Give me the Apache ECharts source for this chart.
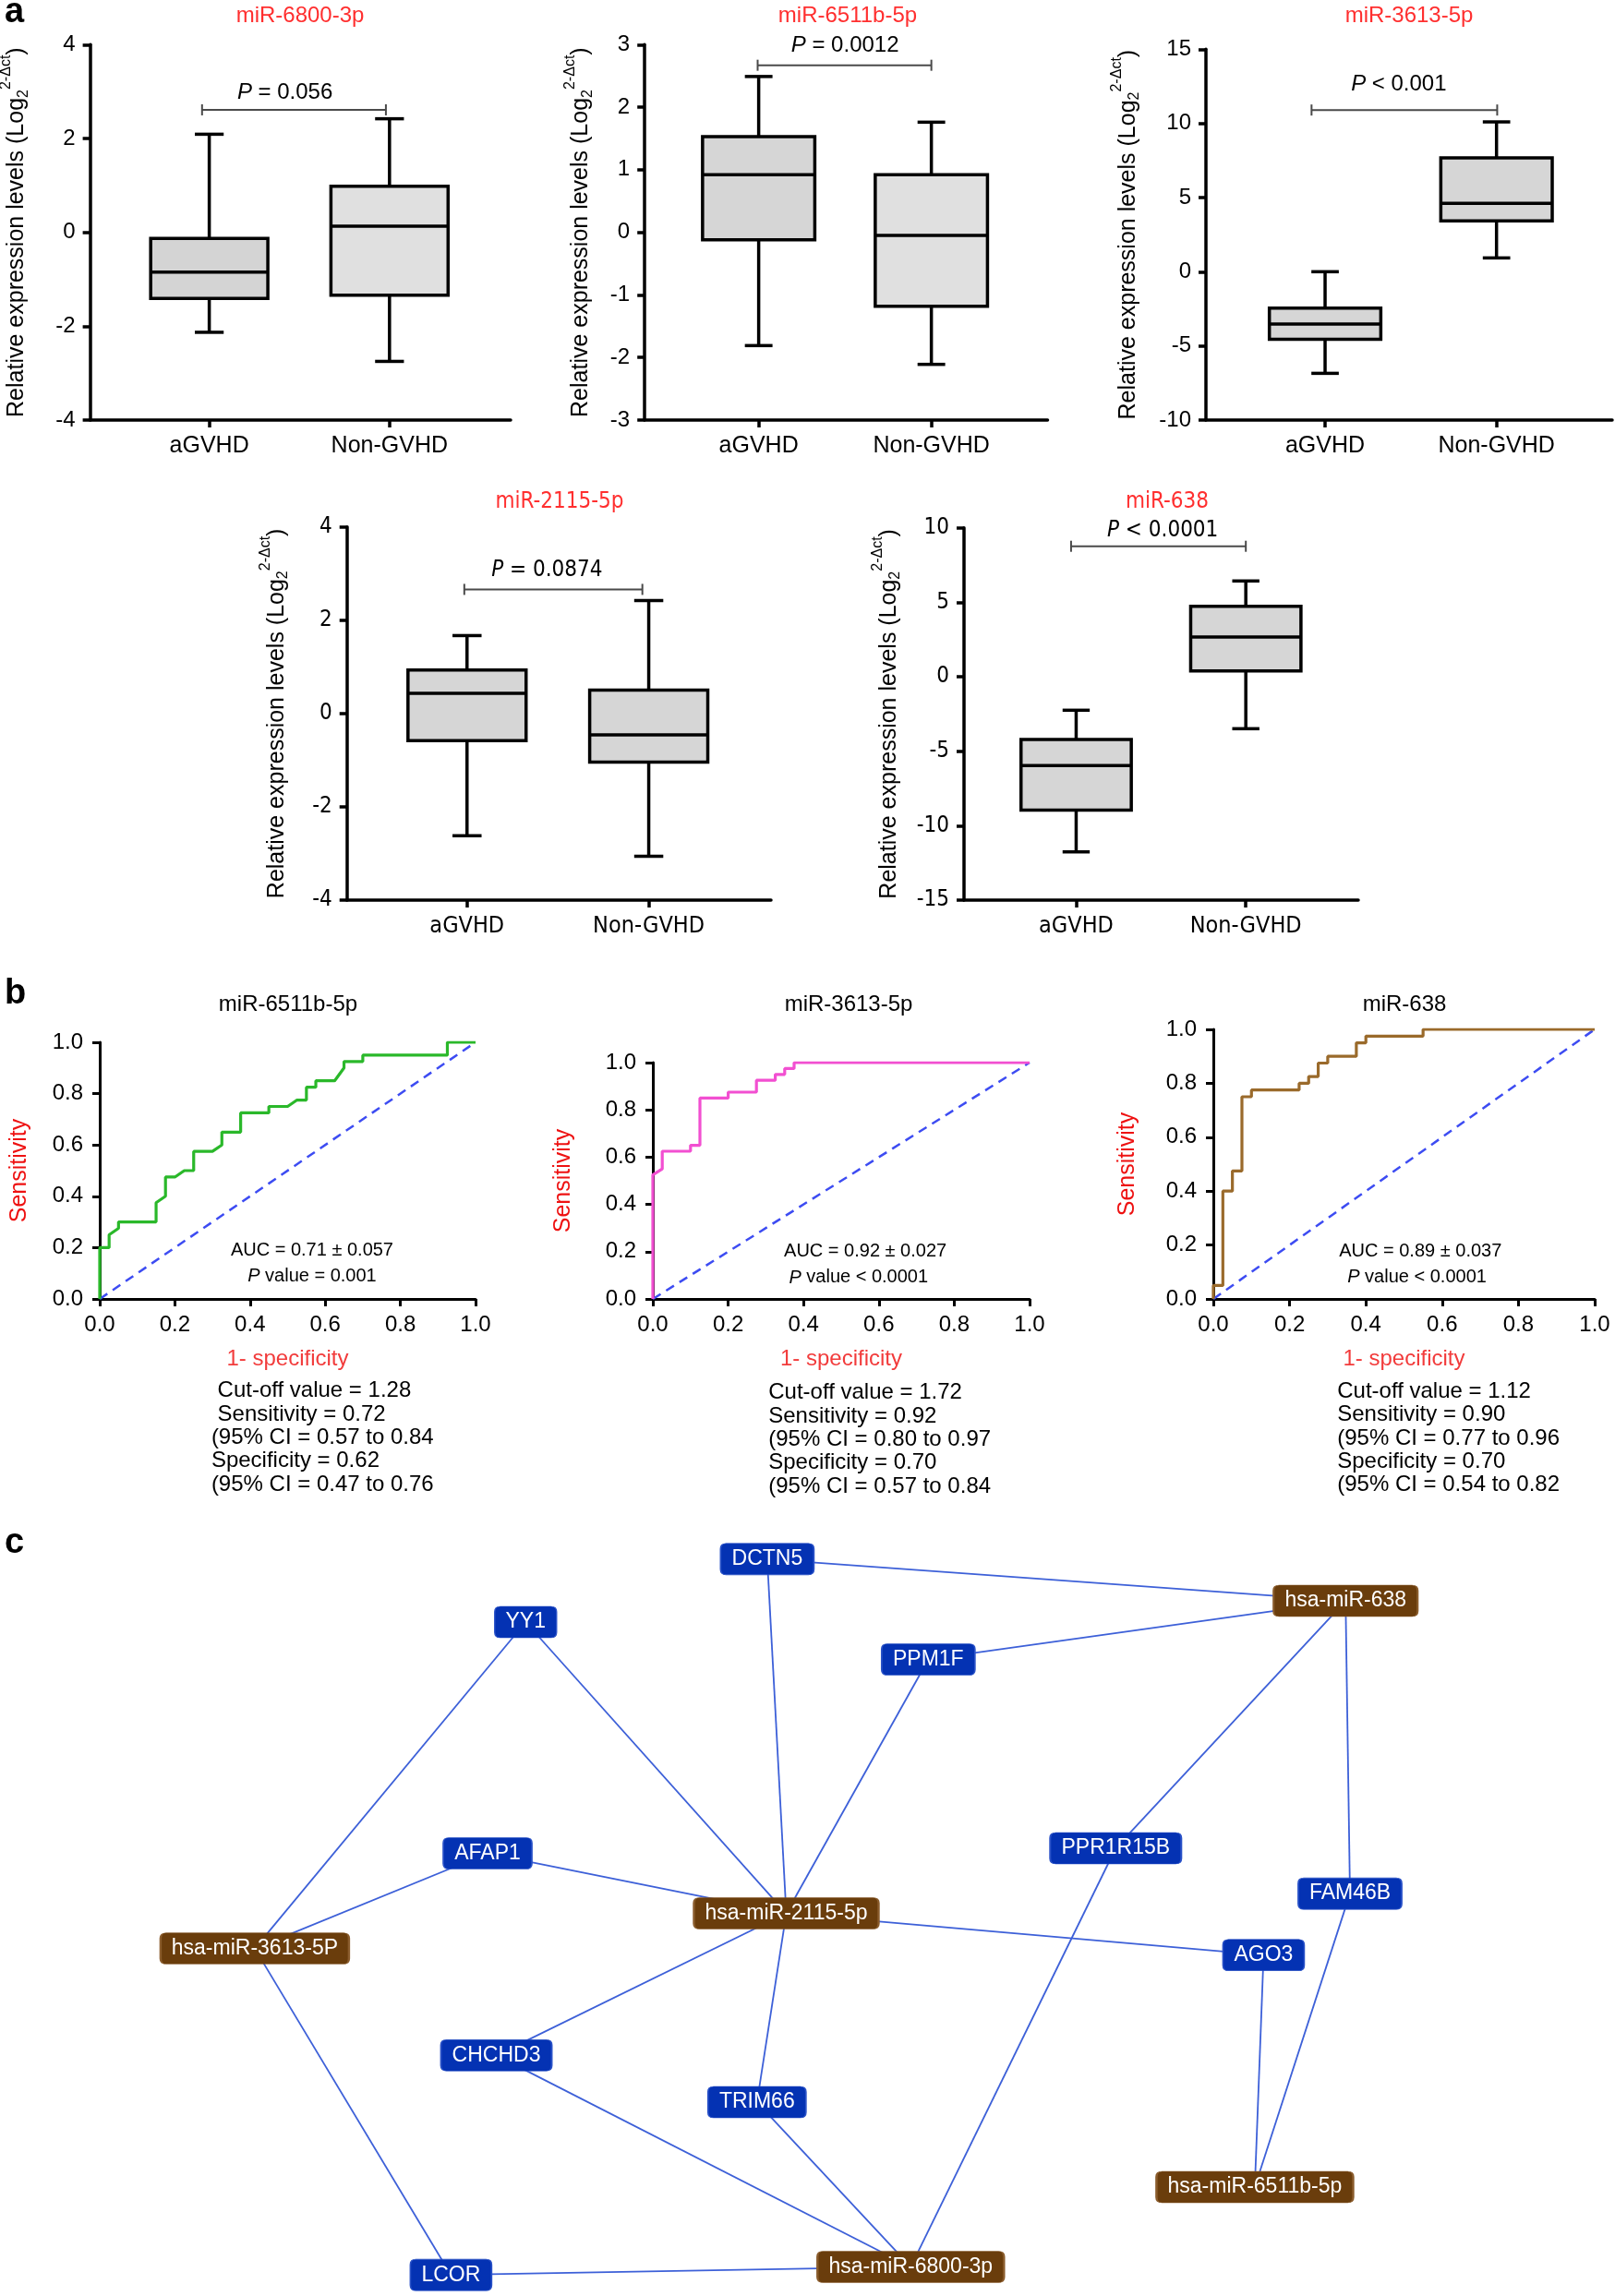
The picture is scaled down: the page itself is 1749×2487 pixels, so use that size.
<!DOCTYPE html>
<html><head><meta charset="utf-8">
<script src="https://cdn.jsdelivr.net/npm/echarts@6/dist/echarts.min.js"></script>
<style>html,body{margin:0;padding:0;background:#fff}#c{width:1749px;height:2487px}</style>
</head><body><div id="c"></div><script>
const FONT = '"Liberation Sans", Arial, Helvetica, sans-serif';
const NARROW = '"Liberation Sans Narrow", "Arial Narrow", "DejaVu Sans Condensed", "Liberation Sans", sans-serif';

// ---------------- Panel a : box plots ----------------
const groups = ['aGVHD', 'Non-GVHD'];
const boxTitles = ['miR-6800-3p', 'miR-6511b-5p', 'miR-3613-5p', 'miR-2115-5p', 'miR-638'];
// each box: [min, Q1, median, Q3, max]
const box6800 = [[-2.13, -1.41, -0.85, -0.13, 2.09], [-2.75, -1.34, 0.13, 0.98, 2.42]];
const box6511 = [[-1.81, -0.12, 0.92, 1.53, 2.49], [-2.11, -1.18, -0.05, 0.92, 1.76]];
const box3613 = [[-6.85, -4.56, -3.53, -2.45, 0.0], [0.93, 3.42, 4.61, 7.68, 10.1]];
const box2115 = [[-2.62, -0.58, 0.43, 0.93, 1.67], [-3.06, -1.04, -0.46, 0.50, 2.42]];
const box638 = [[-11.76, -8.95, -5.97, -4.21, -2.25], [-3.49, 0.39, 2.67, 4.73, 6.43]];
const boxSets = [box6800, box6511, box3613, box2115, box638];
const yMinA = [-4, -3, -10, -4, -15];
const yMaxA = [4, 3, 15, 4, 10];
const yStepA = [2, 1, 5, 2, 5];
const pOps = ['=', '=', '<', '=', '<'];
const pVals = ['0.056', '0.0012', '0.001', '0.0874', '0.0001'];
const bracketLevel = [2.61, 2.67, 10.9, 2.66, 8.76];

// ---------------- Panel b : ROC curves ----------------
const rocTitles = ['miR-6511b-5p', 'miR-3613-5p', 'miR-638'];
const roc6511 = [[0,0],[0,0.2],[0.025,0.2],[0.025,0.25],[0.05,0.275],[0.05,0.3],[0.15,0.3],[0.15,0.375],[0.175,0.4],[0.175,0.475],[0.2,0.475],[0.225,0.5],[0.25,0.5],[0.25,0.575],[0.3,0.575],[0.325,0.6],[0.325,0.65],[0.375,0.65],[0.375,0.725],[0.45,0.725],[0.45,0.75],[0.5,0.75],[0.525,0.775],[0.55,0.775],[0.55,0.825],[0.575,0.825],[0.575,0.85],[0.625,0.85],[0.65,0.9],[0.65,0.925],[0.7,0.925],[0.7,0.95],[0.925,0.95],[0.925,1],[1,1]];
const roc3613 = [[0,0],[0,0.525],[0.025,0.55],[0.025,0.625],[0.1,0.625],[0.1,0.65],[0.125,0.65],[0.125,0.85],[0.2,0.85],[0.2,0.875],[0.275,0.875],[0.275,0.925],[0.325,0.925],[0.325,0.95],[0.35,0.95],[0.35,0.975],[0.375,0.975],[0.375,1],[1,1]];
const roc638 = [[0,0],[0,0.05],[0.025,0.05],[0.025,0.4],[0.05,0.4],[0.05,0.475],[0.075,0.475],[0.075,0.75],[0.1,0.75],[0.1,0.775],[0.225,0.775],[0.225,0.8],[0.25,0.8],[0.25,0.825],[0.275,0.825],[0.275,0.875],[0.3,0.875],[0.3,0.9],[0.375,0.9],[0.375,0.95],[0.4,0.95],[0.4,0.975],[0.55,0.975],[0.55,1],[1,1]];
const rocSets = [roc6511, roc3613, roc638];
const chanceLine = [[0, 0], [1, 1]];
const rocAUC = ['0.71 ± 0.057', '0.92 ± 0.027', '0.89 ± 0.037'];
const rocP = ['= 0.001', '< 0.0001', '< 0.0001'];
const rocStats = [
  [' Cut-off value = 1.28', ' Sensitivity = 0.72', '(95% CI = 0.57 to 0.84', 'Specificity = 0.62', '(95% CI = 0.47 to 0.76'],
  ['Cut-off value = 1.72', 'Sensitivity = 0.92', '(95% CI = 0.80 to 0.97', 'Specificity = 0.70', '(95% CI = 0.57 to 0.84'],
  ['Cut-off value = 1.12', 'Sensitivity = 0.90', '(95% CI = 0.77 to 0.96', 'Specificity = 0.70', '(95% CI = 0.54 to 0.82']
];

// ---------------- Panel c : network ----------------
const nodeNames = ['DCTN5', 'hsa-miR-638', 'YY1', 'PPM1F', 'AFAP1', 'PPR1R15B', 'hsa-miR-2115-5p', 'FAM46B',
  'hsa-miR-3613-5P', 'AGO3', 'CHCHD3', 'TRIM66', 'hsa-miR-6511b-5p', 'LCOR', 'hsa-miR-6800-3p'];
const nodeKind = ['gene', 'mir', 'gene', 'gene', 'gene', 'gene', 'mir', 'gene', 'mir', 'gene', 'gene', 'gene', 'mir', 'gene', 'mir'];
const nodeX = [524, 919, 359, 634, 333, 762, 537, 922, 174, 863, 339, 517, 857, 308, 622];
const nodeY = [1065, 1093.5, 1108, 1133.5, 1266, 1262.5, 1307, 1293.5, 1331, 1335.5, 1404, 1436, 1494, 1554, 1548.5];
const edges = [
  ['DCTN5', 'hsa-miR-638'], ['DCTN5', 'hsa-miR-2115-5p'], ['YY1', 'hsa-miR-3613-5P'], ['YY1', 'hsa-miR-2115-5p'],
  ['PPM1F', 'hsa-miR-638'], ['PPM1F', 'hsa-miR-2115-5p'], ['AFAP1', 'hsa-miR-3613-5P'], ['AFAP1', 'hsa-miR-2115-5p'],
  ['hsa-miR-638', 'PPR1R15B'], ['hsa-miR-638', 'FAM46B'], ['hsa-miR-2115-5p', 'AGO3'], ['hsa-miR-2115-5p', 'CHCHD3'],
  ['hsa-miR-2115-5p', 'TRIM66'], ['hsa-miR-3613-5P', 'LCOR'], ['CHCHD3', 'hsa-miR-6800-3p'], ['TRIM66', 'hsa-miR-6800-3p'],
  ['PPR1R15B', 'hsa-miR-6800-3p'], ['AGO3', 'hsa-miR-6511b-5p'], ['FAM46B', 'hsa-miR-6511b-5p'], ['LCOR', 'hsa-miR-6800-3p']
];

// ---------------- layout / style ----------------
const gridA = [
  {left: 97.6, top: 48.3, width: 455.4, height: 406.7},
  {left: 698.2, top: 48.3, width: 436.3, height: 406.7},
  {left: 1306, top: 53.3, width: 440, height: 401.7},
  {left: 375.7, top: 570.7, width: 459.3, height: 404.3},
  {left: 1044, top: 571.7, width: 427, height: 403.3}
];
const xRangeA = [[-0.661, 1.672], [-0.66, 1.673], [-0.695, 1.675], [-0.661, 1.673], [-0.661, 1.663]];
const nameGapA = [59, 49, 64, 56, 61];
const rowFont = [FONT, FONT, FONT, NARROW, NARROW];
const boxFill = [['#d4d4d4', '#e0e0e0'], ['#d6d6d6', '#e0e0e0'], ['#d6d6d6', '#d6d6d6'], ['#d6d6d6', '#d6d6d6'], ['#d6d6d6', '#d6d6d6']];
const bracketX = [[-0.04, 0.98], [-0.006, 1.0], [-0.079, 1.004], [-0.015, 0.965], [-0.03, 1.0]];
const pTextPos = [[0.42, 2.98], [0.5, 2.98], [0.43, 12.65], [0.44, 3.06], [0.51, 9.79]];
const titleA = [[325, 17], [918, 17], [1526, 17], [606, 544], [1264, 544]];
const BOX_W = 0.65, CAP_W = 0.16, LW = 3.5;

const gridB = [
  {left: 108, top: 1129, width: 407, height: 278},
  {left: 707, top: 1151, width: 408, height: 256},
  {left: 1314, top: 1115, width: 413, height: 292}
];
const rocColors = ['#2ab82a', '#f24fd1', '#9a6a2b'];
const aucPos = [[0.565, 0.19], [0.564, 0.201], [0.543, 0.176]];
const pPosB = [[0.565, 0.087], [0.546, 0.09], [0.534, 0.08]];
const statsPos = [[0.297, -0.359], [0.307, -0.397], [0.325, -0.344]];
const sensGap = [74, 84, 80];
const titleB = [[312, 1088], [919, 1088], [1521, 1088]];

const gridC = {left: 0, top: 1640, width: 1749, height: 847};
const NODE_H = 34, NODE_R = 6, NODE_PAD = 24;

const axisLineStyle = {color: '#000', width: LW};

function boxItem(fills) {
  return function (params, api) {
    const k = api.value(0);
    const v = [api.value(1), api.value(2), api.value(3), api.value(4), api.value(5)];
    const cx = api.coord([k, 0])[0];
    const hw = api.size([BOX_W, 0])[0] / 2;
    const ch = api.size([CAP_W, 0])[0] / 2;
    const y = v.map(t => api.coord([k, t])[1]);
    const st = {stroke: '#000', lineWidth: LW, fill: null};
    return {type: 'group', children: [
      {type: 'line', shape: {x1: cx, y1: y[4], x2: cx, y2: y[3]}, style: st},
      {type: 'line', shape: {x1: cx, y1: y[1], x2: cx, y2: y[0]}, style: st},
      {type: 'line', shape: {x1: cx - ch, y1: y[4], x2: cx + ch, y2: y[4]}, style: st},
      {type: 'line', shape: {x1: cx - ch, y1: y[0], x2: cx + ch, y2: y[0]}, style: st},
      {type: 'rect', shape: {x: cx - hw, y: y[3], width: 2 * hw, height: y[1] - y[3]}, style: {fill: fills[params.dataIndex], stroke: '#000', lineWidth: LW}},
      {type: 'line', shape: {x1: cx - hw, y1: y[2], x2: cx + hw, y2: y[2]}, style: st}
    ]};
  };
}
function bracketItem(params, api) {
  const p1 = api.coord([api.value(0), api.value(2)]);
  const p2 = api.coord([api.value(1), api.value(2)]);
  const st = {stroke: '#4a4a4a', lineWidth: 2};
  return {type: 'group', children: [
    {type: 'line', shape: {x1: p1[0], y1: p1[1], x2: p2[0], y2: p2[1]}, style: st},
    {type: 'line', shape: {x1: p1[0], y1: p1[1] - 6, x2: p1[0], y2: p1[1] + 6}, style: st},
    {type: 'line', shape: {x1: p2[0], y1: p2[1] - 6, x2: p2[0], y2: p2[1] + 6}, style: st}
  ]};
}
function noteSeries(gi, points, texts, extra, topShift) {
  return {
    type: 'custom', xAxisIndex: gi, yAxisIndex: gi, clip: false, silent: true, z: 10,
    data: points, encode: {x: 0, y: 1},
    renderItem(params, api) {
      const p = api.coord([api.value(0), api.value(1)]);
      const style = Object.assign({
        text: texts[params.dataIndex], fill: '#000', fontFamily: FONT, fontSize: 24,
        textAlign: 'center', textVerticalAlign: 'middle', align: 'center', verticalAlign: 'middle'
      }, extra);
      return {type: 'text', x: p[0], y: p[1] - (topShift || 0), style};
    }
  };
}
function roundRectPath(w, h, r) {
  return 'path://M' + r + ',0 L' + (w - r) + ',0 Q' + w + ',0 ' + w + ',' + r + ' L' + w + ',' + (h - r) +
    ' Q' + w + ',' + h + ' ' + (w - r) + ',' + h + ' L' + r + ',' + h + ' Q0,' + h + ' 0,' + (h - r) +
    ' L0,' + r + ' Q0,0 ' + r + ',0 Z';
}

const grids = [], xAxes = [], yAxes = [], series = [], graphics = [];

// panel a
for (let i = 0; i < 5; i++) {
  const f = rowFont[i];
  grids.push(Object.assign({containLabel: false, outerBoundsMode: 'none'}, gridA[i]));
  xAxes.push({
    gridIndex: i, type: 'value', min: xRangeA[i][0], max: xRangeA[i][1],
    axisLine: {show: true, onZero: false, lineStyle: axisLineStyle},
    axisTick: {show: true, customValues: [0, 1], length: 8, lineStyle: {color: '#000', width: LW}},
    axisLabel: {show: true, customValues: [0, 1], formatter: v => groups[Math.round(v)], fontSize: 25, color: '#000', fontFamily: f, margin: 16},
    splitLine: {show: false}
  });
  yAxes.push({
    gridIndex: i, type: 'value', min: yMinA[i], max: yMaxA[i], interval: yStepA[i],
    axisLine: {show: true, onZero: false, lineStyle: axisLineStyle},
    axisTick: {show: true, length: 8, lineStyle: {color: '#000', width: LW}},
    axisLabel: {fontSize: 24, color: '#000', fontFamily: f, margin: 16},
    splitLine: {show: false},
    name: '{n|Relative expression levels (Log}{sub|2}{sup|2-Δct}{n|)}',
    nameLocation: 'middle', nameRotate: 90, nameGap: nameGapA[i], nameMoveOverlap: false,
    nameTextStyle: {color: '#000', fontFamily: FONT, fontSize: 25, rich: {
      n: {fontSize: 25, fontFamily: FONT, color: '#000', lineHeight: 40},
      sub: {fontSize: 16, fontFamily: FONT, color: '#000', lineHeight: 40, verticalAlign: 'bottom', padding: [0, 0, 5, 0]},
      sup: {fontSize: 16, fontFamily: FONT, color: '#000', lineHeight: 40, verticalAlign: 'top'}
    }}
  });
  series.push({
    type: 'custom', xAxisIndex: i, yAxisIndex: i, clip: false, silent: true, z: 3,
    renderItem: boxItem(boxFill[i]),
    data: boxSets[i].map((b, k) => [k].concat(b)),
    encode: {x: 0, y: [1, 2, 3, 4, 5]}
  });
  series.push({
    type: 'custom', xAxisIndex: i, yAxisIndex: i, clip: false, silent: true, z: 3,
    renderItem: bracketItem,
    data: [[bracketX[i][0], bracketX[i][1], bracketLevel[i]]],
    encode: {x: [0, 1], y: 2}
  });
  series.push(noteSeries(i, [pTextPos[i]], ['{i|P} ' + pOps[i] + ' ' + pVals[i]], {
    fontSize: 24, fontFamily: f,
    rich: {i: {fontStyle: 'italic', fontSize: 24, fontFamily: f, fill: '#000', color: '#000'}}
  }));
  graphics.push({type: 'text', x: titleA[i][0], y: titleA[i][1], style: {
    text: boxTitles[i], fill: '#ff2f2f', fontSize: 24, fontFamily: f,
    textAlign: 'center', textVerticalAlign: 'middle', align: 'center', verticalAlign: 'middle'}});
}

// panel b
for (let j = 0; j < 3; j++) {
  const gi = 5 + j;
  grids.push(Object.assign({containLabel: false, outerBoundsMode: 'none'}, gridB[j]));
  xAxes.push({
    gridIndex: gi, type: 'value', min: 0, max: 1, interval: 0.2,
    axisLine: {show: true, onZero: false, lineStyle: {color: '#000', width: 3}},
    axisTick: {show: true, length: 8, lineStyle: {color: '#000', width: 3}},
    axisLabel: {fontSize: 24, color: '#000', fontFamily: FONT, margin: 16, formatter: v => v.toFixed(1)},
    splitLine: {show: false},
    name: '1- specificity', nameLocation: 'middle', nameGap: 53, nameMoveOverlap: false,
    nameTextStyle: {color: '#f23b3b', fontSize: 24, fontFamily: FONT}
  });
  yAxes.push({
    gridIndex: gi, type: 'value', min: 0, max: 1, interval: 0.2,
    axisLine: {show: true, onZero: false, lineStyle: {color: '#000', width: 3}},
    axisTick: {show: true, length: 8, lineStyle: {color: '#000', width: 3}},
    axisLabel: {fontSize: 24, color: '#000', fontFamily: FONT, margin: 18, formatter: v => v.toFixed(1)},
    splitLine: {show: false},
    name: 'Sensitivity', nameLocation: 'middle', nameRotate: 90, nameGap: sensGap[j], nameMoveOverlap: false,
    nameTextStyle: {color: '#ee1111', fontSize: 25, fontFamily: FONT}
  });
  series.push({
    type: 'line', xAxisIndex: gi, yAxisIndex: gi, data: chanceLine, showSymbol: false, symbol: 'none',
    lineStyle: {color: '#3d4cf2', width: 2.5, type: [10, 7]}, silent: true, z: 2
  });
  series.push({
    type: 'line', xAxisIndex: gi, yAxisIndex: gi, data: rocSets[j], showSymbol: false, symbol: 'none',
    lineStyle: {color: rocColors[j], width: 3.2}, silent: true, z: 4
  });
  series.push(noteSeries(gi, [aucPos[j]], ['AUC = ' + rocAUC[j]], {fontSize: 20}));
  series.push(noteSeries(gi, [pPosB[j]], ['{i|P} value ' + rocP[j]], {
    fontSize: 20, rich: {i: {fontStyle: 'italic', fontSize: 20, fontFamily: FONT, fill: '#000', color: '#000'}}
  }));
  series.push(noteSeries(gi, [statsPos[j]], [rocStats[j].join('\n')], {
    fontSize: 24, lineHeight: 25.3, textAlign: 'left', align: 'left', textVerticalAlign: 'top', verticalAlign: 'top'
  }, 12.6));
  graphics.push({type: 'text', x: titleB[j][0], y: titleB[j][1], style: {
    text: rocTitles[j], fill: '#000', fontSize: 24, fontFamily: FONT,
    textAlign: 'center', textVerticalAlign: 'middle', align: 'center', verticalAlign: 'middle'}});
}

// panel c
grids.push(Object.assign({containLabel: false, outerBoundsMode: 'none'}, gridC));
xAxes.push({gridIndex: 8, type: 'value', min: 0, max: 1103, show: false});
yAxes.push({gridIndex: 8, type: 'value', min: 1034.2, max: 1568.4, inverse: true, show: false});
const mctx = document.createElement('canvas').getContext('2d');
mctx.font = '23px ' + FONT;
const graphNodes = nodeNames.map((n, i) => {
  const w = Math.round(mctx.measureText(n).width + NODE_PAD);
  const mir = nodeKind[i] === 'mir';
  return {
    name: n, value: [nodeX[i], nodeY[i]],
    symbol: roundRectPath(w, NODE_H, NODE_R), symbolKeepAspect: false,
    symbolSize: [w, NODE_H],
    itemStyle: {color: mir ? '#6a3d0c' : '#0432b3', borderColor: mir ? '#8a5c2c' : '#2a52c8', borderWidth: 1}
  };
});
series.push({
  type: 'graph', coordinateSystem: 'cartesian2d', xAxisIndex: 8, yAxisIndex: 8,
  data: graphNodes,
  links: edges.map(e => ({source: e[0], target: e[1]})),
  label: {show: true, position: 'inside', color: '#fff', fontSize: 23, fontFamily: FONT},
  lineStyle: {color: '#3d60d8', width: 1.8, opacity: 1, curveness: 0},
  emphasis: {disabled: true}, silent: true, z: 5
});

// panel letters
[['a', 5, 14], ['b', 5, 1077], ['c', 5, 1672]].forEach(l => graphics.push({
  type: 'text', x: l[1], y: l[2], style: {text: l[0], fill: '#000', fontSize: 38, fontWeight: 'bold', fontFamily: FONT,
    textAlign: 'left', textVerticalAlign: 'middle', align: 'left', verticalAlign: 'middle'}
}));

const chart = echarts.init(document.getElementById('c'), null, {renderer: 'canvas'});
chart.setOption({
  backgroundColor: '#fff', animation: false,
  grid: grids, xAxis: xAxes, yAxis: yAxes, series: series, graphic: graphics
});
</script></body></html>
